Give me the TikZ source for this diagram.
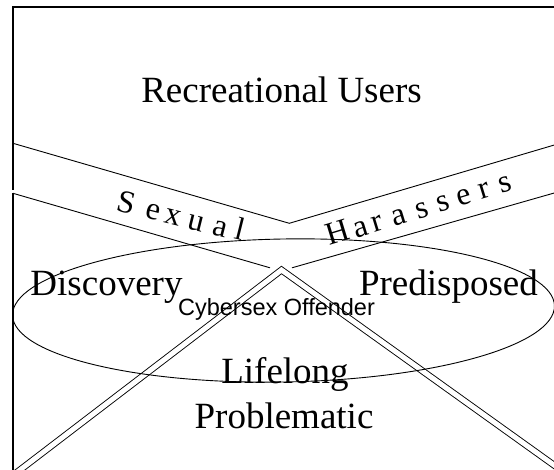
\documentclass[tikz,border=0pt]{standalone}
\usepackage{fontspec}
\setmainfont{Liberation Serif}
\newfontfamily\arialfont{Liberation Sans}
\begin{document}
\begin{tikzpicture}[x=1pt,y=-1pt,
  thin line/.style={line width=0.9pt},
  frame line/.style={line width=2pt},
  double band/.style={line width=0.9pt, double=white, double distance=5pt, line join=miter},
  big label/.style={font=\fontsize{37}{44}\selectfont, inner sep=0pt, anchor=base},
  small label/.style={font=\arialfont\fontsize{23.5}{28}\selectfont, inner sep=0pt, anchor=base},
  arc letter/.style={font=\fontsize{32}{38}\selectfont, inner sep=0pt, anchor=base},
]
\useasboundingbox (0,0) rectangle (554,470);
\clip (0,0) rectangle (554,470);

% frame
\draw[frame line] (13,190) -- (13,6.7) -- (560,6.7);
\draw[frame line] (13,193) -- (13,480);

% upper V
\coordinate (ul) at (13,143.3);
\coordinate (uv) at (289.3,223.3);
\coordinate (ur) at (556,144.5);
\draw[thin line] (ul) -- (uv) -- (ur);

% lower broken V
\coordinate (ll) at (13,193.3);
\coordinate (lm) at (270,267.8);
\coordinate (rm) at (292,267.8);
\coordinate (rr) at (556,192.5);
\draw[thin line] (ll) -- (lm);
\draw[thin line] (rm) -- (rr);

% double X
\coordinate (xl) at (16,473);
\coordinate (xa) at (281.5,270);
\coordinate (xr) at (558,468);
\draw[double band] (xl) -- (xa) -- (xr);

% ellipse
\coordinate (ec) at (283.5,310.5);
\draw[thin line, rotate around={1:(ec)}] (ec) ellipse [x radius=271pt, y radius=71.5pt];

% texts
\node[big label] (rec) at (281.5,103) {Recreational Users};
\node[big label] (disc) at (106.5,295) {Discovery};
\node[big label] (pred) at (448.5,295) {Predisposed};
\node[small label] (cyb) at (276.5,316) {Cybersex Offender};
\node[big label] (life) at (285,383) {Lifelong};
\node[big label] (prob) at (284,428) {Problematic};

% Sexual
\node[arc letter, rotate=-14] (s1) at (124,213) {S};
\node[arc letter, rotate=-14] (s2) at (151,219) {e};
\node[arc letter, rotate=-14] (s3) at (171,224) {x};
\node[arc letter, rotate=-14] (s4) at (194,230) {u};
\node[arc letter, rotate=-14] (s5) at (218,236) {a};
\node[arc letter, rotate=-14] (s6) at (238,240) {l};

% Harassers
\node[arc letter, rotate=17] (h1) at (341,242) {H};
\node[arc letter, rotate=17] (h2) at (363,236) {a};
\node[arc letter, rotate=17] (h3) at (380,230.5) {r};
\node[arc letter, rotate=17] (h4) at (401,224.2) {a};
\node[arc letter, rotate=17] (h5) at (424,217.2) {s};
\node[arc letter, rotate=17] (h6) at (445,210.8) {s};
\node[arc letter, rotate=17] (h7) at (466,204.4) {e};
\node[arc letter, rotate=17] (h8) at (487,198) {r};
\node[arc letter, rotate=17] (h9) at (507,192) {s};
\end{tikzpicture}
\end{document}
